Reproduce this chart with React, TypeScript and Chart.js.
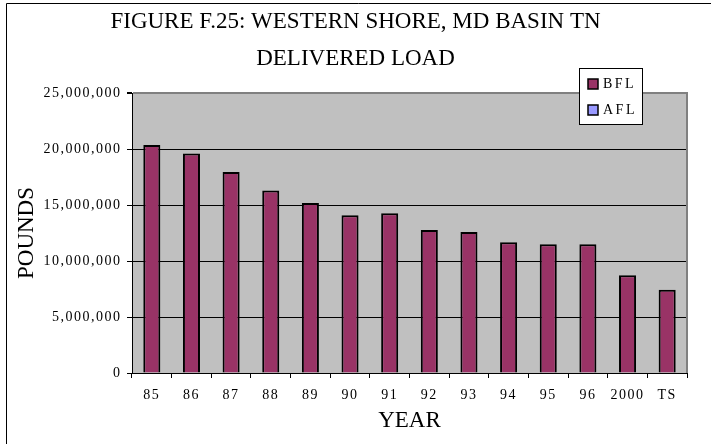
import React, { useEffect, useRef } from 'react';
import { Chart, registerables } from 'chart.js';

Chart.register(...registerables);

const TITLE_LINES = ['FIGURE F.25: WESTERN SHORE, MD BASIN TN', 'DELIVERED LOAD'];
const X_TITLE = 'YEAR';
const Y_TITLE = 'POUNDS';
const YEARS = ['85', '86', '87', '88', '89', '90', '91', '92', '93', '94', '95', '96', '2000', 'TS'];
const BFL = [20360000, 19600000, 17950000, 16300000, 15180000, 14080000, 14260000, 12770000, 12590000, 11670000, 11490000, 11490000, 8720000, 7440000];
const AFL = [null, null, null, null, null, null, null, null, null, null, null, null, null, null];
const SERIES_LABELS = ['BFL', 'AFL'];
const SERIES_COLORS = ['#993366', '#9999FF'];
const Y_MIN = 0;
const Y_MAX = 25000000;
const Y_STEP = 5000000;

const SERIF = '"Liberation Serif", "Times New Roman", Times, serif';

const decor = {
  id: 'decor',
  beforeDraw(chart: any) {
    const { ctx, chartArea: a } = chart;
    ctx.save();
    ctx.fillStyle = '#C0C0C0';
    ctx.fillRect(a.left, a.top, a.right - a.left, a.bottom - a.top);
    ctx.restore();
  },
  afterDatasetsDraw(chart: any) {
    const { ctx, chartArea: a } = chart;
    ctx.save();
    ctx.strokeStyle = '#808080';
    ctx.lineWidth = 2;
    ctx.beginPath();
    ctx.moveTo(a.right, a.top - 1);
    ctx.lineTo(a.right, a.bottom);
    ctx.stroke();
    ctx.restore();
    ctx.letterSpacing = '1.5px';
  },
  afterDraw(chart: any) {
    const { ctx } = chart;
    ctx.letterSpacing = '0px';
    ctx.save();
    // outer frame (left and top edges visible)
    ctx.strokeStyle = '#000';
    ctx.lineWidth = 1;
    ctx.beginPath();
    ctx.moveTo(6.5, chart.height);
    ctx.lineTo(6.5, 3.5);
    ctx.lineTo(chart.width, 3.5);
    ctx.stroke();
    // title
    ctx.fillStyle = '#000';
    ctx.font = `23px ${SERIF}`;
    ctx.textAlign = 'center';
    ctx.textBaseline = 'alphabetic';
    ctx.fillText(TITLE_LINES[0], 355.5, 28);
    ctx.fillText(TITLE_LINES[1], 355.5, 65);
    // legend
    const lx = 579.5, ly = 68.5, lw = 63, lh = 56;
    ctx.fillStyle = '#fff';
    ctx.fillRect(lx, ly, lw, lh);
    ctx.strokeStyle = '#000';
    ctx.lineWidth = 1;
    ctx.strokeRect(lx, ly, lw, lh);
    const ds = chart.data.datasets;
    ds.forEach((d: any, i: number) => {
      const my = 79 + i * 26;
      ctx.fillStyle = d.backgroundColor;
      ctx.fillRect(588, my, 10, 10);
      ctx.strokeStyle = '#000';
      ctx.lineWidth = 1.5;
      ctx.strokeRect(588, my, 10, 10);
      ctx.fillStyle = '#000';
      ctx.font = `14px ${SERIF}`;
      ctx.textAlign = 'left';
      ctx.textBaseline = 'alphabetic';
      ctx.letterSpacing = '2.5px';
      ctx.fillText(d.label, 603, my + 9);
      ctx.letterSpacing = '0px';
    });
    ctx.restore();
  },
};

export default function App() {
  const ref = useRef<HTMLCanvasElement>(null);
  useEffect(() => {
    if (!ref.current) return;
    const chart = new Chart(ref.current, {
      type: 'bar',
      data: {
        labels: YEARS,
        datasets: [
          {
            label: SERIES_LABELS[0],
            data: BFL,
            backgroundColor: SERIES_COLORS[0],
            borderColor: '#000',
            borderWidth: 2,
            grouped: false,
            barPercentage: 0.43,
            categoryPercentage: 1,
          },
          {
            label: SERIES_LABELS[1],
            data: AFL as any,
            backgroundColor: SERIES_COLORS[1],
            borderColor: '#000',
            borderWidth: 2,
            grouped: false,
            barPercentage: 0.43,
            categoryPercentage: 1,
          },
        ],
      },
      options: {
        animation: false,
        responsive: false,
        devicePixelRatio: 1,
        layout: { padding: { top: 93, right: 24, left: 0, bottom: 0 } },
        plugins: {
          legend: { display: false },
          title: { display: false },
          tooltip: { enabled: false },
        },
        scales: {
          x: {
            grid: { display: true, drawOnChartArea: false, drawTicks: true, tickLength: 5, color: '#000', tickColor: '#000', offset: true },
            border: { display: true, color: '#000', width: 1 },
            ticks: { font: { family: SERIF, size: 14 }, color: '#000', padding: 8.6, z: 1, maxRotation: 0, autoSkip: false },
            title: { display: true, text: X_TITLE, font: { family: SERIF, size: 23 }, color: '#000', padding: { top: 0, bottom: 9.2 } },
            afterFit: (s: any) => { s.height = 71; },
          },
          y: {
            min: Y_MIN,
            max: Y_MAX,
            grid: {
              color: (c: any) => (c.tick && c.tick.value === Y_MAX ? '#808080' : '#000'),
              lineWidth: (c: any) => (c.tick && c.tick.value === Y_MAX ? 2 : 1),
              tickColor: '#000',
              tickLength: 5,
            },
            border: { display: true, color: '#000', width: 1 },
            ticks: {
              stepSize: Y_STEP,
              callback: (v: any) => Number(v).toLocaleString('en-US'),
              font: { family: SERIF, size: 14 },
              color: '#000',
              padding: 5.5,
              z: 1,
            },
            title: { display: true, text: Y_TITLE, font: { family: SERIF, size: 23 }, color: '#000', padding: { top: 12.7, bottom: 0 } },
            afterFit: (s: any) => { s.width = 132; },
          },
        },
      } as any,
      plugins: [decor],
    });
    return () => chart.destroy();
  }, []);
  return (
    <div style={{ position: 'fixed', left: 0, top: 0, width: 711, height: 444, background: '#fff' }}>
      <canvas ref={ref} width={711} height={444} style={{ display: 'block' }} />
    </div>
  );
}
